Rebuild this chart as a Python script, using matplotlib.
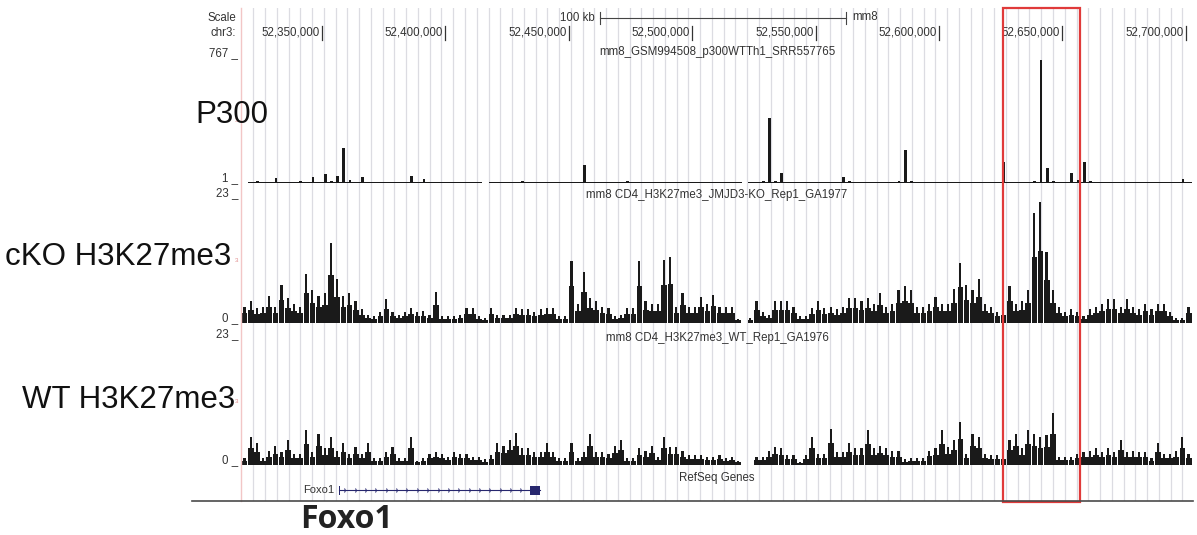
import numpy as np
import matplotlib.pyplot as plt
from matplotlib.patches import Rectangle

plt.rcParams['font.family'] = ['Liberation Sans', 'DejaVu Sans']

W, H = 1197, 535

# chr3 window (mm8), signal summarised in 2.5 kb bins
win_start, win_end = 52317500, 52702500
bin_size = 2500
bin_starts = np.arange(win_start, win_end, bin_size)
nan = np.nan

p300 = [nan, 6, 15, 6, 8, 30, 6, 8, 6, 15,
        8, 36, 8, 55, 10, 43, 213, 20, 8, 36,
        8, 6, 6, 8, 6, 6, 8, 43, 8, 24,
        6, 8, 6, 6, 8, 6, 6, 6, 6, nan,
        6, 6, 8, 6, 6, 12, 6, 6, 6, 8,
        6, 6, 6, 8, 6, 110, 8, 6, 6, 8,
        6, 8, 12, 6, 6, 8, 6, 6, 8, 6,
        6, 6, 8, 6, 6, 6, 8, 6, 6, 6,
        6, nan, 6, 8, 10, 396, 12, 60, 8, 6,
        8, 6, 6, 8, 6, 6, 8, 36, 10, 6,
        8, 6, 6, 8, 6, 6, 10, 200, 10, 6,
        8, 6, 6, 8, 6, 6, 8, 6, 6, 8,
        6, 6, 8, 128, 8, 6, 8, 6, 10, 749,
        91, 10, 6, 8, 61, 20, 128, 12, 6, 8,
        6, 8, 6, 6, 8, 6, 6, 8, 6, 6,
        6, 8, 24, 6]

cko = [3.0, 4.0, 2.7, 3.0, 4.9, 3.0, 6.9, 4.5, 3.5, 3.0,
       9.0, 6.0, 5.0, 5.5, 14.6, 8.0, 5.0, 5.5, 4.0, 2.5,
       1.5, 1.3, 2.0, 4.3, 2.0, 1.5, 2.0, 2.7, 2.0, 2.2,
       1.5, 5.6, 1.2, 1.3, 1.2, 1.5, 2.7, 2.7, 1.2, 1.0,
       2.7, 1.5, 1.5, 1.5, 2.7, 2.5, 2.5, 2.0, 2.5, 2.7,
       2.7, 1.2, 1.2, 11.3, 3.5, 9.3, 4.5, 4.0, 3.0, 2.7,
       1.2, 1.5, 2.7, 2.7, 11.3, 4.0, 3.5, 3.5, 11.5, 12.0,
       3.0, 5.4, 3.0, 3.0, 4.8, 3.5, 5.1, 3.0, 3.0, 3.0,
       0.8, nan, 1.0, 4.0, 2.0, 1.5, 4.0, 4.0, 4.0, 3.0,
       1.2, 1.2, 2.7, 4.0, 2.7, 3.0, 2.5, 3.0, 4.5, 4.5,
       4.0, 4.5, 3.5, 5.4, 3.0, 3.5, 6.0, 6.8, 6.0, 3.0,
       3.0, 3.5, 4.8, 3.5, 3.5, 6.2, 11.0, 7.0, 6.0, 8.0,
       3.5, 3.0, 2.0, 2.5, 6.8, 3.5, 4.0, 6.0, 20.0, 22.0,
       13.0, 6.0, 3.0, 2.0, 2.5, 2.0, 1.3, 2.5, 3.0, 3.5,
       4.3, 4.3, 3.0, 4.3, 3.0, 2.5, 3.5, 2.5, 3.5, 3.5,
       2.0, 1.0, 1.0, 3.0]

wt = [1.2, 5.0, 4.0, 1.2, 2.5, 3.4, 2.4, 4.6, 2.0, 2.0,
      6.3, 2.4, 5.6, 3.0, 5.0, 2.5, 3.9, 2.0, 3.3, 2.0,
      3.9, 1.2, 1.2, 2.4, 3.3, 1.2, 1.2, 5.1, 0.8, 1.2,
      2.0, 2.4, 2.0, 1.5, 2.4, 2.0, 2.0, 1.5, 1.5, 1.0,
      1.8, 3.9, 3.5, 4.5, 5.8, 3.0, 3.0, 2.4, 2.4, 3.9,
      2.4, 1.2, 1.2, 3.9, 1.2, 2.4, 5.6, 2.4, 2.4, 2.0,
      3.5, 4.6, 1.2, 1.2, 3.0, 2.5, 3.5, 1.5, 5.0, 3.3,
      3.3, 2.5, 1.8, 1.8, 1.8, 1.5, 1.5, 1.8, 1.2, 1.5,
      0.8, nan, nan, 1.5, 1.5, 2.5, 3.3, 3.0, 1.8, 1.8,
      0.5, 1.8, 5.0, 2.0, 2.0, 6.6, 2.4, 2.4, 3.9, 3.0,
      3.0, 6.4, 3.0, 3.5, 3.0, 2.5, 2.5, 1.0, 1.2, 1.2,
      1.2, 2.6, 3.0, 6.4, 3.3, 4.6, 7.7, 2.0, 5.6, 5.0,
      2.0, 1.8, 1.8, 1.8, 4.5, 5.6, 3.0, 6.4, 5.6, 5.0,
      5.5, 9.4, 1.5, 1.5, 1.5, 2.0, 2.3, 2.5, 3.0, 2.3,
      3.0, 2.3, 4.5, 2.3, 2.5, 2.3, 2.3, 1.2, 4.0, 2.0,
      2.0, 2.5, 5.0, 2.0]

tick_pos = [52350000, 52400000, 52450000, 52500000, 52550000, 52600000, 52650000, 52700000]
tick_labels = [f'{p:,}' for p in tick_pos]
track_names = ['P300', 'cKO H3K27me3', 'WT H3K27me3']
track_titles = ['mm8_GSM994508_p300WTTh1_SRR557765',
                'mm8 CD4_H3K27me3_JMJD3-KO_Rep1_GA1977',
                'mm8 CD4_H3K27me3_WT_Rep1_GA1976']
track_max = [767, 23, 23]
track_min = ['1', '0', '0']
gene_name = 'Foxo1'
gene_start, gene_end = 52356900, 52438300
gene_exons = [(52356900, 52357400), (52434300, 52438300)]
highlight = (52626000, 52657300)
scale_start, scale_len = 52462500, 100000

fig = plt.figure(figsize=(W / 100, H / 100), dpi=100)

X0, X1 = 241.8, 1192


def px_axes(y0, y1, z=1):
    ax = fig.add_axes([X0 / W, 1 - y1 / H, (X1 - X0) / W, (y1 - y0) / H], zorder=z)
    ax.set_xlim(win_start, win_end)
    ax.axis('off')
    return ax


# guide lines behind everything
guide = px_axes(8, 501, z=0)
guide.set_ylim(0, 1)
for g in np.arange(52322160, win_end, 4765):
    guide.axvline(g, color='#dcdce2', lw=0.9)

# page-level texts on top
page = fig.add_axes([0, 0, 1, 1], zorder=4)
page.set_xlim(0, W)
page.set_ylim(H, 0)
page.axis('off')
page.plot([241.3, 241.3], [8, 501], color='#f2c6c6', lw=1.0)

# header: scale bar and coordinates
hdr = px_axes(0, 57, z=2)
hdr.set_ylim(57, 0)
txt = dict(fontsize=8.3, color='#333333', va='center')
hdr.plot([scale_start, scale_start + scale_len], [18, 18], color='#444', lw=0.8)
for e in (scale_start, scale_start + scale_len):
    hdr.plot([e, e], [12, 24], color='#444', lw=0.8)
hdr.text(scale_start - 1800, 18, '100 kb', ha='right', **txt)
hdr.text(scale_start + scale_len + 2500, 17, 'mm8', ha='left', **txt)
for p, lab in zip(tick_pos, tick_labels):
    hdr.text(p - 900, 33, lab, ha='right', **txt)
    hdr.plot([p, p], [26, 40], color='#333', lw=0.9)
page.text(236, 18, 'Scale', ha='right', **txt)
page.text(236, 33, 'chr3:', ha='right', **txt)

# signal tracks
boxes = [(57, 183), (197, 323), (338, 465)]
data = [p300, cko, wt]
title_y = [52, 195, 338]
label_y = [115, 257, 400]
label_x = [195, 5, 22]
ink = '#1a1a1a'
for i, ((y0, y1), vals) in enumerate(zip(boxes, data)):
    ax = px_axes(y0, y1, z=2)
    ax.set_ylim(0, track_max[i])
    vals = np.array(vals, dtype=float)
    if i == 0:
        ax.bar(bin_starts, np.minimum(vals, 8), width=bin_size, align='edge',
               color=ink, linewidth=0)
        ax.bar(bin_starts + bin_size * 0.3, vals, width=bin_size * 0.45, align='edge',
               color=ink, linewidth=0)
    else:
        # dense body plus thin spike per bin
        ax.bar(bin_starts, vals * 0.6, width=bin_size * 0.92, align='edge',
               color=ink, linewidth=0)
        ax.bar(bin_starts + bin_size * 0.25, vals, width=bin_size * 0.35, align='edge',
               color=ink, linewidth=0)
    page.text(717, title_y[i], track_titles[i], ha='center', **txt)
    page.text(238, y0 - 4, f'{track_max[i]} _', ha='right', **txt)
    page.text(238, y1 - 5, f'{track_min[i]} _', ha='right', **txt)
    page.text(238.5, (y0 + y1) / 2, '3', ha='right', va='center', fontsize=4.5, color='#e08c8c')
    page.text(label_x[i], label_y[i], track_names[i], ha='left', va='center',
              fontsize=22.5, color='#111111')

# RefSeq gene track
page.text(717, 478, 'RefSeq Genes', ha='center', **txt)
gax = px_axes(470, 500, z=2)
gax.set_ylim(30, 0)
navy = '#27276e'
gax.plot([gene_start, gene_end], [20, 20], color=navy, lw=0.8)
arrows = np.arange(gene_start + 2500, gene_end - 3000, 4200)
gax.plot(arrows, np.full(len(arrows), 20.0), ls='none', marker='4', ms=4, color=navy, mew=0.7)
for s, e in gene_exons:
    gax.add_patch(Rectangle((s, 15.5), e - s, 9, color=navy, lw=0))
gax.text(gene_start - 1800, 20, gene_name, ha='right', va='center', fontsize=8, color='#333333')

page.plot([192, 1193], [501, 501], color='#4a4a4a', lw=1.2)
page.text(300, 519, gene_name, ha='left', va='center', fontsize=23,
          fontweight='bold', family='Open Sans', color='#222222')

# highlighted region
ov = px_axes(0, H, z=3)
ov.set_ylim(H, 0)
ov.add_patch(Rectangle((highlight[0], 8), highlight[1] - highlight[0], 494,
                       fill=False, edgecolor='#e03a3a', lw=1.6))

fig.savefig('out.png', dpi=100)
